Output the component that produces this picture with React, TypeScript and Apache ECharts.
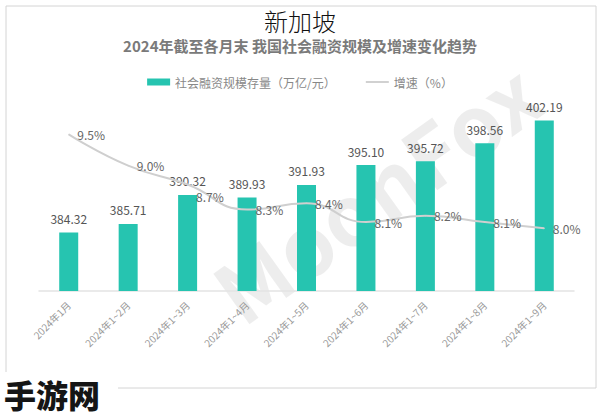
import React, { useEffect, useRef } from "react";
import * as echarts from "echarts";

const categories = [
  "2024年1月",
  "2024年1~2月",
  "2024年1~3月",
  "2024年1~4月",
  "2024年1~5月",
  "2024年1~6月",
  "2024年1~7月",
  "2024年1~8月",
  "2024年1~9月",
];
const scaleValues = [384.32, 385.71, 390.32, 389.93, 391.93, 395.1, 395.72, 398.56, 402.19];
const growthValues = [9.5, 9.0, 8.7, 8.3, 8.4, 8.1, 8.2, 8.1, 8.0];
const barName = "社会融资规模存量（万亿/元）";
const lineName = "增速（%）";
const mainTitle = "新加坡";
const subTitle = "2024年截至各月末 我国社会融资规模及增速变化趋势";
const watermark = "MoonFox";
const siteMark = "手游网";

const FONT = "'Noto Sans CJK SC', 'Noto Sans', sans-serif";

export default function App() {
  const ref = useRef<HTMLDivElement>(null);
  useEffect(() => {
    document.body.style.margin = "0";
    const chart = echarts.init(ref.current!, null, { renderer: "svg" });
    const lineData = growthValues.map((v, i) =>
      i === 2 ? { value: v, label: { offset: [0, 12] } } : v
    );
    chart.setOption({
      animation: false,
      backgroundColor: "#ffffff",
      textStyle: { fontFamily: FONT },
      title: [
        {
          text: mainTitle,
          left: "center",
          top: 3,
          textStyle: { fontSize: 24, fontWeight: 300, color: "#111", fontFamily: FONT },
        },
        {
          text: subTitle,
          left: "center",
          top: 33,
          textStyle: { fontSize: 15, fontWeight: "bold", color: "#7a7a7a", fontFamily: FONT },
        },
      ],
      legend: {
        top: 71,
        left: "center",
        itemGap: 30,
        itemWidth: 23,
        itemHeight: 7,
        textStyle: { fontSize: 12, color: "#888", fontFamily: FONT },
        data: [
          { name: barName, icon: "rect" },
          { name: lineName, icon: "path://M0,0h24v2h-24z", itemStyle: { color: "#cfcfcf" } },
        ],
      },
      grid: { left: 39, right: 26, top: 103, bottom: 125 },
      xAxis: {
        type: "category",
        data: categories,
        axisTick: { show: false },
        axisLine: { lineStyle: { color: "#e3e3e3", width: 1.5 } },
        axisLabel: { rotate: 45, interval: 0, fontSize: 10, color: "#999", margin: 12 },
      },
      yAxis: [
        { type: "value", min: 375, max: 405, show: false },
        { type: "value", min: 7, max: 10, show: false },
      ],
      graphic: [
        {
          type: "rect",
          shape: { x: 6, y: 6, width: 590, height: 382 },
          style: { fill: "none", stroke: "#d4d4d4", lineWidth: 1 },
          z: -2,
        },
        {
          type: "text",
          x: 375,
          y: 190,
          rotation: 0.62,
          style: {
            text: watermark,
            fontSize: 84,
            fontWeight: "bold",
            fill: "rgba(0,0,0,0.07)",
            align: "center",
            verticalAlign: "middle",
            fontFamily: FONT,
          },
          z: -1,
        },
        {
          type: "rect",
          shape: { x: 0, y: 372, width: 118, height: 44 },
          style: { fill: "#ffffff" },
          z: 10,
        },
        {
          type: "text",
          x: 4,
          y: 394,
          style: {
            text: siteMark,
            fontSize: 32,
            fontWeight: 900,
            fill: "#151515",
            verticalAlign: "middle",
            fontFamily: FONT,
          },
          z: 11,
        },
      ],
      series: [
        {
          name: barName,
          type: "bar",
          data: scaleValues,
          barWidth: 19,
          itemStyle: { color: "#26c4b0" },
          label: {
            show: true,
            position: "top",
            distance: 8,
            fontSize: 12,
            color: "#555",
            formatter: (p: any) => p.value.toFixed(2),
          },
        },
        {
          name: lineName,
          type: "line",
          yAxisIndex: 1,
          data: lineData,
          smooth: true,
          symbol: "circle",
          symbolSize: 1,
          showSymbol: true,
          lineStyle: { color: "#cfcfcf", width: 2 },
          itemStyle: { color: "#cfcfcf" },
          label: {
            show: true,
            position: "right",
            distance: 8,
            fontSize: 12,
            color: "#666",
            formatter: (p: any) => Number(p.value).toFixed(1) + "%",
          },
        },
      ],
    });
    return () => chart.dispose();
  }, []);
  return <div ref={ref} style={{ width: 600, height: 416 }} />;
}
